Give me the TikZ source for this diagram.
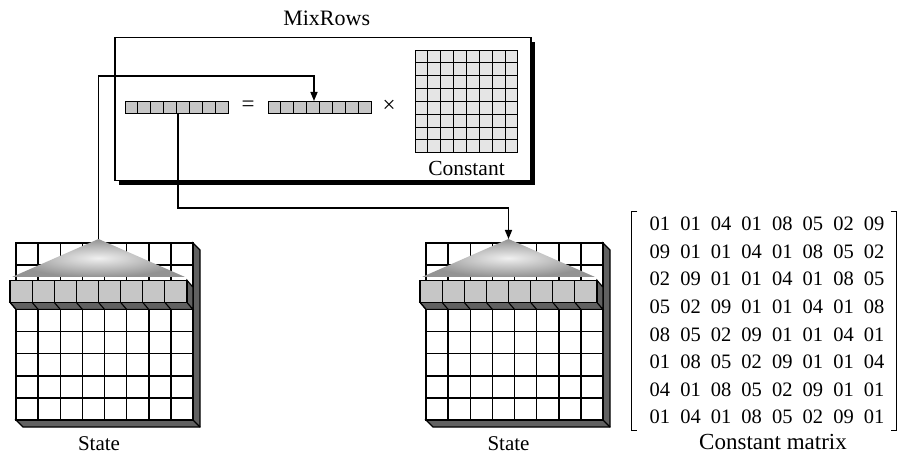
\documentclass[tikz,border=0pt]{standalone}
\usepackage{fontspec}
\setmainfont{Liberation Serif}
\usetikzlibrary{positioning, arrows.meta, matrix, calc}

\tikzset{
  dark face/.style={fill=black!62, draw=black, line width=1.1pt},
  cube face/.style={fill=gray!45, draw=black, line width=1.1pt},
  const cell/.style={fill=black!10, draw=black, line width=0.9pt},
  grid line/.style={line width=1.5pt},
  conn/.style={line width=1.5pt},
  arrow/.style={conn, -{Triangle[length=9pt,width=7pt]}},
  bracket/.style={line width=1.3pt},
  num/.style={minimum width=30.6pt, minimum height=27.6pt, inner sep=0pt,
    font=\fontsize{20.5}{22}\selectfont},
  pics/statebox/.style={code={
    % slab edges
    \filldraw[dark face] (177,0) -- (184,7) -- (184,184) -- (7,184) -- (0,177) -- (177,177) -- cycle;
    \draw[line width=1.1pt] (177,177) -- (184,184);
    % grid
    \filldraw[fill=white, grid line] (0,0) rectangle (177,177);
    \foreach \k in {1,...,7} {
      \draw[grid line] (\k*22.125,0) -- ++(0,177);
      \draw[grid line] (0,\k*22.125) -- ++(177,0);
    }
    % row pulled out
    \filldraw[dark face] (-6,59.4) -- (171,59.4) -- (177,66.4) -- (0,66.4) -- cycle;
    \filldraw[dark face] (171,37.25) -- (177,44.25) -- (177,66.4) -- (171,59.4) -- cycle;
    \foreach \k in {0,...,7} {
      \draw[line width=1.1pt] (-6+\k*22.125,59.4) -- ++(6,7);
      \filldraw[cube face] (-6+\k*22.125,37.25) rectangle ++(22.125,22.125);
    }
    % spreading triangle
    \shade[inner color=gray!12, outer color=gray!85] (-4,34) -- (82.5,-4) -- (169,34) -- cycle;
    \coordinate (-apex) at (82.5,-4);
  }},
}

\begin{document}
\begin{tikzpicture}[x=1pt, y=-1pt]
  \useasboundingbox[fill=white] (0,0) rectangle (902,454);

  % MixRows box
  \fill[black] (119,42) rectangle (535,185);
  \node[draw, fill=white, line width=1.5pt, minimum width=416pt, minimum height=143pt,
    inner sep=0pt, anchor=north west] (mixbox) at (114,37) {};
  \node[anchor=base, font=\fontsize{22}{24}\selectfont] (mixlbl) at (326.7,25.7) {MixRows};

  \foreach \k in {0,...,7} {
    \filldraw[cube face, line width=0.9pt] (125+\k*12.9,101) rectangle ++(12.9,12);
    \filldraw[cube face, line width=0.9pt] (268+\k*12.9,101) rectangle ++(12.9,12);
  }
  \coordinate (rowA) at (178,113);
  \coordinate (rowB) at (314,101);
  \node[font=\fontsize{23}{25}\selectfont] (eq) at (248,106) {=};
  \node[font=\fontsize{23}{25}\selectfont] (times) at (389,106) {×};

  \foreach \i in {0,...,7} {
    \foreach \j in {0,...,7} {
      \filldraw[const cell] (415+\i*12.85,50+\j*12.85) rectangle ++(12.85,12.85);
    }
  }
  \node[anchor=base, font=\fontsize{21.5}{24}\selectfont] (constlbl) at (466.5,175.7) {Constant};

  % states
  \pic (stL) at (16,243) {statebox};
  \pic (stR) at (426,243) {statebox};
  \node[anchor=base, font=\fontsize{21}{23}\selectfont] (stLlbl) at (99,450) {State};
  \node[anchor=base, font=\fontsize{21}{23}\selectfont] (stRlbl) at (508.5,450) {State};

  % connectors
  \coordinate (topA) at (0,76);
  \coordinate (lowB) at (0,208);
  \draw[arrow] (stL-apex) -- (stL-apex |- topA) -| (rowB);
  \draw[arrow] (rowA) -- (rowA |- lowB) -| (stR-apex);

  % constant matrix
  \matrix (cmat) [matrix of nodes, nodes={num}, column sep=0pt, row sep=0pt] at (767,320.5) {
    01 & 01 & 04 & 01 & 08 & 05 & 02 & 09 \\
    09 & 01 & 01 & 04 & 01 & 08 & 05 & 02 \\
    02 & 09 & 01 & 01 & 04 & 01 & 08 & 05 \\
    05 & 02 & 09 & 01 & 01 & 04 & 01 & 08 \\
    08 & 05 & 02 & 09 & 01 & 01 & 04 & 01 \\
    01 & 08 & 05 & 02 & 09 & 01 & 01 & 04 \\
    04 & 01 & 08 & 05 & 02 & 09 & 01 & 01 \\
    01 & 04 & 01 & 08 & 05 & 02 & 09 & 01 \\
  };
  \draw[bracket] ($(cmat.north west)+(-3.6,4.9)$) -- ++(-6,0) |- ($(cmat.south west)+(-3.6,-3.9)$);
  \draw[bracket] ($(cmat.north east)+(-2.4,4.9)$) -- ++(6,0) |- ($(cmat.south east)+(-2.4,-3.9)$);
  \node[anchor=base, font=\fontsize{23}{25}\selectfont] (cmatlbl) at (773,449) {Constant matrix};
\end{tikzpicture}
\end{document}
